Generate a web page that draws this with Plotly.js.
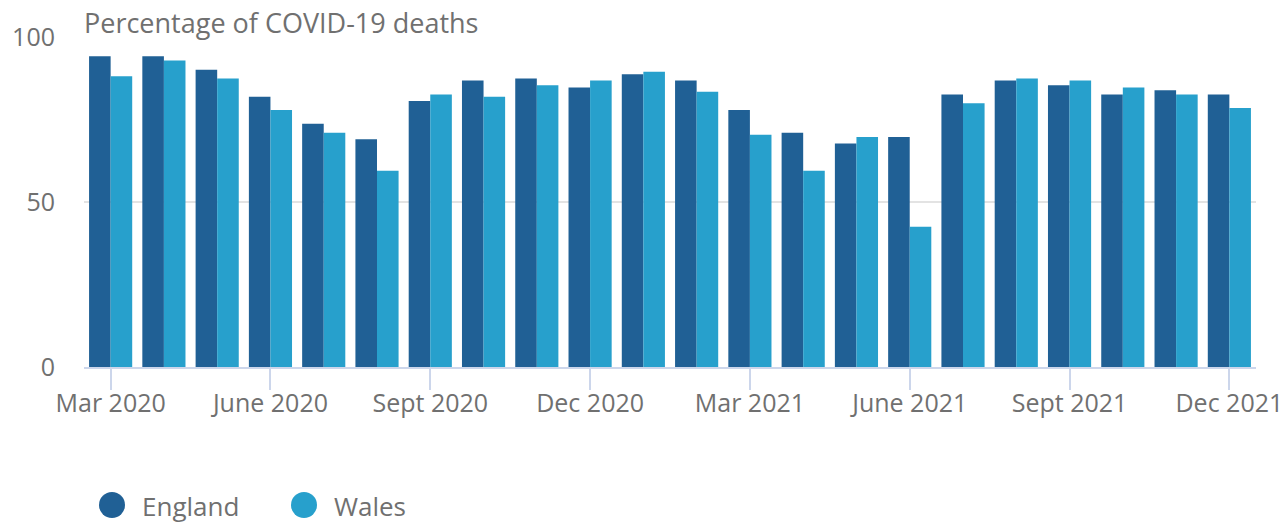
<!DOCTYPE html>
<html>
<head>
<meta charset="utf-8">
<script src="https://cdn.plot.ly/plotly-3.0.1.min.js"></script>
<style>html,body{margin:0;padding:0;background:#fff;}#chart{width:1286px;height:526px;}</style>
</head>
<body>
<div id="chart"></div>
<script>
const months = ["Mar 2020","Apr 2020","May 2020","Jun 2020","Jul 2020","Aug 2020","Sep 2020","Oct 2020","Nov 2020","Dec 2020","Jan 2021","Feb 2021","Mar 2021","Apr 2021","May 2021","Jun 2021","Jul 2021","Aug 2021","Sep 2021","Oct 2021","Nov 2021","Dec 2021"];
const england = [94.2,94.2,90.1,81.9,73.7,69.0,80.6,86.8,87.4,84.7,88.7,86.8,77.9,71.0,67.7,69.7,82.6,86.8,85.4,82.6,83.9,82.6];
const wales = [88.1,92.9,87.4,77.9,71.0,59.5,82.6,81.9,85.4,86.8,89.5,83.4,70.4,59.5,69.7,42.5,79.9,87.4,86.8,84.7,82.6,78.5];
const tickVals = ["Mar 2020","Jun 2020","Sep 2020","Dec 2020","Mar 2021","Jun 2021","Sep 2021","Dec 2021"];
const tickText = ["Mar 2020","June 2020","Sept 2020","Dec 2020","Mar 2021","June 2021","Sept 2021","Dec 2021"];
const yTicks = [0, 50, 100];
const seriesNames = ["England", "Wales"];
const colors = ["#206095", "#27a0cc"];
const textColor = "#707070";
const font = "Open Sans, sans-serif";

const traces = [england, wales].map((vals, i) => ({
  type: "bar",
  name: seriesNames[i],
  x: months,
  y: vals,
  marker: {color: colors[i], line: {width: 0}},
  showlegend: false,
  hoverinfo: "x+y+name"
}));

const W = 1286, H = 526, L = 84, R = 30, T = 37, B = 159;
const pw = W - L - R, ph = H - T - B;
const px = x => (x - L) / pw;
const py = y => (H - B - y) / ph;

const legendItems = [{cx: 112, tx: 141}, {cx: 304, tx: 333}];
const shapes = legendItems.map((it, i) => ({
  type: "circle", xref: "paper", yref: "paper",
  xsizemode: "pixel", ysizemode: "pixel",
  xanchor: px(it.cx), yanchor: py(505),
  x0: -13, x1: 13, y0: -13, y1: 13,
  fillcolor: colors[i], line: {width: 0}
}));
const annotations = legendItems.map((it, i) => ({
  xref: "paper", yref: "paper", x: px(it.tx), y: py(506),
  xanchor: "left", yanchor: "middle", showarrow: false,
  text: seriesNames[i], font: {family: font, size: 26, color: textColor}, borderpad: 0
}));
annotations.push({
  xref: "paper", yref: "paper", x: px(83), y: py(22),
  xanchor: "left", yanchor: "middle", showarrow: false,
  text: "Percentage of COVID-19 deaths",
  font: {family: font, size: 27, color: textColor}, borderpad: 0
});

const layout = {
  width: W, height: H,
  margin: {l: L, r: R, t: T, b: B},
  paper_bgcolor: "#fff", plot_bgcolor: "#fff",
  barmode: "group", bargap: 0.19, bargroupgap: 0,
  font: {family: font, size: 25, color: textColor},
  xaxis: {
    type: "category",
    tickmode: "array", tickvals: tickVals, ticktext: tickText,
    ticks: "outside", ticklen: 21, tickwidth: 2, tickcolor: "#ccd6eb",
    showline: true, linecolor: "#ccd6eb", linewidth: 2,
    showgrid: false, zeroline: false,
    tickfont: {family: font, size: 25, color: textColor},
    ticklabelstandoff: -8
  },
  yaxis: {
    range: [0, 100], tickmode: "array", tickvals: yTicks,
    showgrid: true, gridcolor: "#e3e3e3", gridwidth: 2,
    zeroline: false, showline: false, ticks: "",
    tickfont: {family: font, size: 25, color: textColor},
    ticklabelstandoff: 28
  },
  shapes: shapes,
  annotations: annotations,
  showlegend: false
};

Plotly.newPlot("chart", traces, layout, {displayModeBar: false, staticPlot: true});
</script>
</body>
</html>
